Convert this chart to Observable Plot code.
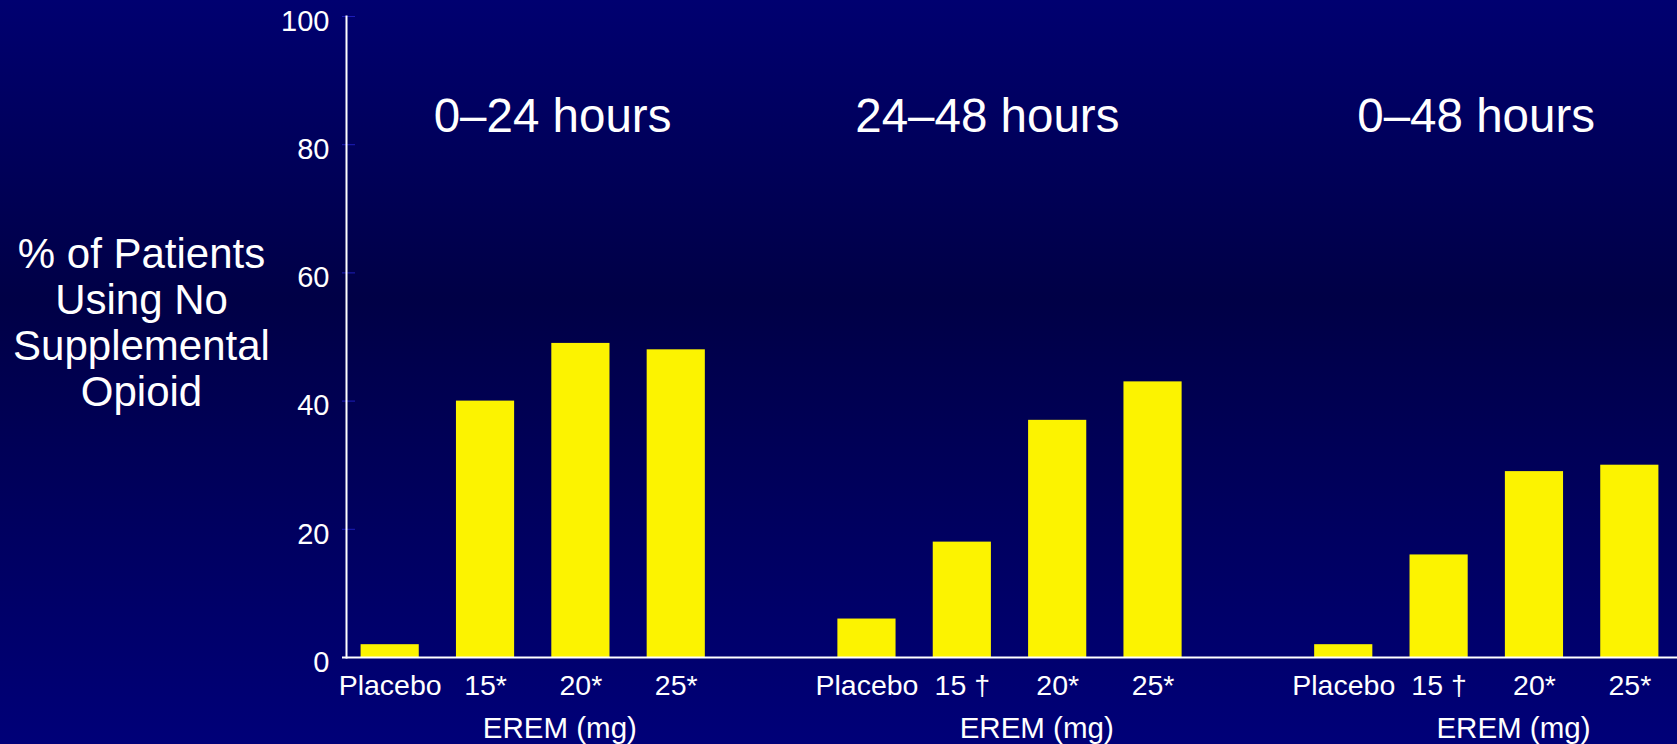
<!DOCTYPE html>
<html><head><meta charset="utf-8">
<script src="https://cdn.jsdelivr.net/npm/d3@7"></script>
<script src="https://cdn.jsdelivr.net/npm/@observablehq/plot@0.6"></script>
<style>
html,body{margin:0;padding:0;background:#00005a;}
#chart svg{display:block;}
</style></head><body><div id="chart"></div>
<script>
const groups = ["0–24 hours", "24–48 hours", "0–48 hours"];
const doses = ["Placebo", "15", "20", "25"];
const doseLabels = [
  ["Placebo", "15*", "20*", "25*"],
  ["Placebo", "15 †", "20*", "25*"],
  ["Placebo", "15 †", "20*", "25*"]
];
const values = [
  [2, 40, 49, 48],
  [6, 18, 37, 43],
  [2, 16, 29, 30]
];
const yTicks = [0, 20, 40, 60, 80, 100];
const xAxisTitle = "EREM (mg)";
const yAxisTitle = "% of Patients\nUsing No\nSupplemental\nOpioid";

const key = (g, d) => `${g}|${d}`;
const rows = groups.flatMap((g, i) => doses.map((d, j) => ({
  group: g, dose: d, key: key(g, d), label: doseLabels[i][j], value: values[i][j]
})));
const domain = groups.flatMap((g, i) => [...(i ? [`gap${i}`] : []), ...doses.map(d => key(g, d))]);
const labelOf = new Map(rows.map(r => [r.key, r.label]));
const headingDx = [67, 25, 37];

const WHITE = "#ffffff";
const FONT = "'Liberation Sans', Arial, sans-serif";

const chart = Plot.plot({
  width: 1677, height: 744,
  marginLeft: 342, marginRight: 0, marginTop: 16, marginBottom: 87,
  style: {
    background: "linear-gradient(to bottom, #000070 0%, #000046 40%, #000078 100%)",
    fontFamily: FONT, color: WHITE
  },
  x: {type: "band", domain, paddingInner: 0.39, paddingOuter: 0.195, round: false},
  y: {domain: [0, 100]},
  marks: [
    Plot.barY(rows, {x: "key", y: "value", fill: "#fcf300"}),
    Plot.axisY({ticks: yTicks, tickSize: 13, dx: 13, tickFormat: () => "", stroke: "#1c1cb8", label: null}),
    Plot.axisY({ticks: yTicks, tickSize: 0, tickPadding: 13, dy: 5, fontSize: 29, fill: WHITE, label: null}),
    Plot.axisX({tickSize: 0, tickPadding: 17, fontSize: 28.5, fill: WHITE, label: null,
      tickFormat: k => labelOf.get(k) ?? ""}),
    Plot.ruleY([0], {stroke: WHITE, strokeWidth: 2}),
    Plot.frame({anchor: "left", stroke: WHITE, strokeWidth: 2, dx: 4}),
    ...groups.map((g, i) => Plot.text([g], {
      x: () => key(g, "15"), text: d => d, frameAnchor: "top", lineAnchor: "bottom",
      dy: 115, dx: headingDx[i], fontSize: 47.5, fill: WHITE
    })),
    Plot.text(groups, {
      x: g => key(g, "20"), text: () => xAxisTitle, frameAnchor: "bottom", lineAnchor: "bottom",
      dy: 80, dx: -21, fontSize: 29.5, fill: WHITE
    }),
    Plot.text([yAxisTitle], {
      text: d => d, frameAnchor: "left", dx: -201, dy: -14.5, textAnchor: "middle",
      lineAnchor: "middle", lineHeight: 1.095, fontSize: 42, fill: WHITE
    })
  ]
});
document.getElementById("chart").appendChild(chart);
</script></body></html>
